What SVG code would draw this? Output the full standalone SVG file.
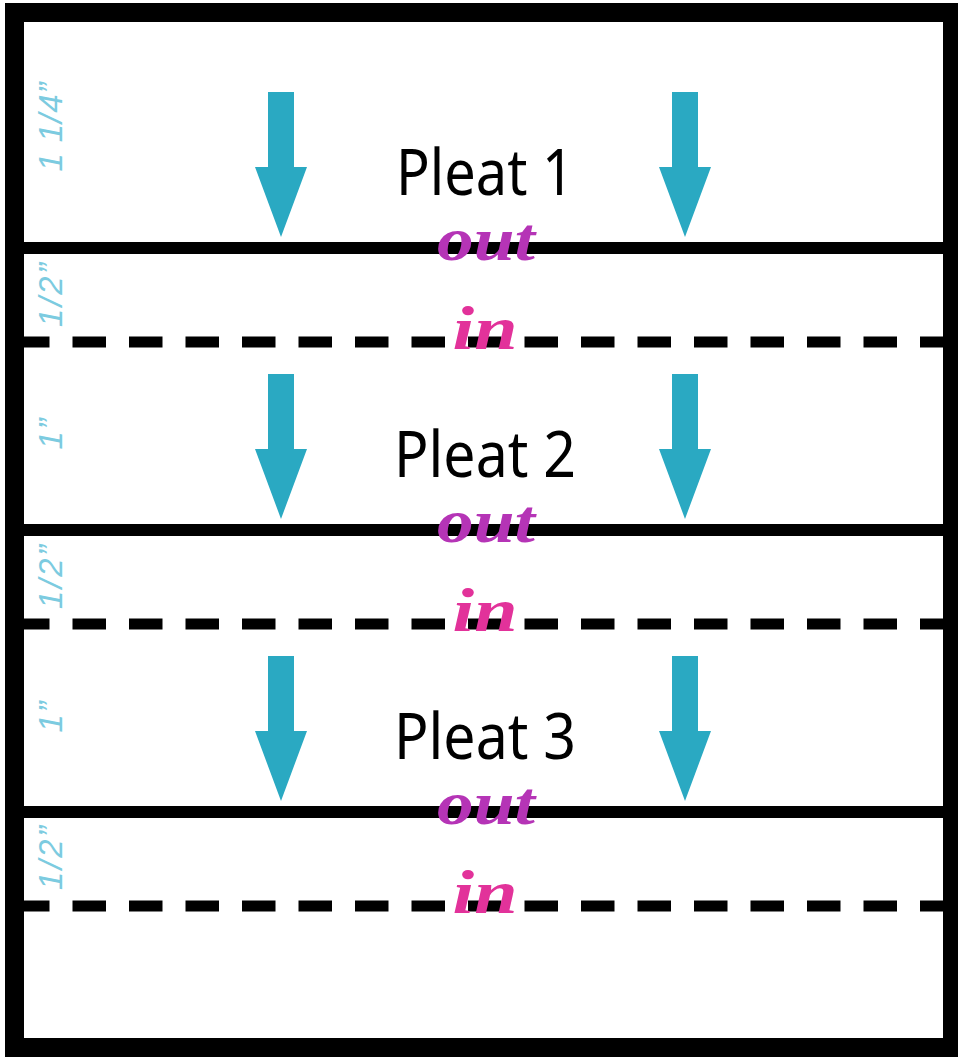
<svg xmlns="http://www.w3.org/2000/svg" width="958" height="1057" viewBox="0 0 958 1057">
<style>
.solid{stroke:#000;stroke-width:12;fill:none}
.dash{stroke:#000;stroke-width:11;fill:none;stroke-dasharray:33.5 23}
.pleat{font-family:"Noto Sans","DejaVu Sans",sans-serif;font-size:64px;fill:#000;text-anchor:middle}
.out{font-family:"Liberation Serif",serif;font-style:italic;font-weight:bold;font-size:62px;fill:#b534b6;text-anchor:middle}
.in{font-family:"Liberation Serif",serif;font-style:italic;font-weight:bold;font-size:62px;fill:#e2329a;text-anchor:middle}
.side{font-family:"Liberation Sans",Arial,sans-serif;font-style:italic;font-size:33px;fill:#7ccbe0;text-anchor:middle}
.arrow{fill:#2aa9c2}
</style>
<defs>
<polygon id="arr" points="-13,0 13,0 13,75 26,75 0,145 -26,75 -13,75"/>
</defs>
<rect width="958" height="1057" fill="#fff"/>
<g id="connectors">
<line class="solid" x1="14" y1="248" x2="946" y2="248"/>
<line class="dash" x1="16" y1="342" x2="946" y2="342"/>
<line class="solid" x1="14" y1="530" x2="946" y2="530"/>
<line class="dash" x1="16" y1="624" x2="946" y2="624"/>
<line class="solid" x1="14" y1="812" x2="946" y2="812"/>
<line class="dash" x1="16" y1="906" x2="946" y2="906"/>
</g>
<g id="frame">
<rect x="14.5" y="12.5" width="938" height="1035" fill="none" stroke="#000" stroke-width="19"/>
</g>
<g id="pleat1">
<use href="#arr" class="arrow" x="281" y="92"/>
<use href="#arr" class="arrow" x="685" y="92"/>
<text class="pleat" x="485" y="195" textLength="178" lengthAdjust="spacingAndGlyphs">Pleat 1</text>
<text class="out" x="486" y="260" textLength="98" lengthAdjust="spacingAndGlyphs">out</text>
<text class="in" x="485" y="349" textLength="65" lengthAdjust="spacingAndGlyphs">in</text>
</g>
<g id="pleat2">
<use href="#arr" class="arrow" x="281" y="374"/>
<use href="#arr" class="arrow" x="685" y="374"/>
<text class="pleat" x="485" y="477" textLength="182" lengthAdjust="spacingAndGlyphs">Pleat 2</text>
<text class="out" x="486" y="542" textLength="98" lengthAdjust="spacingAndGlyphs">out</text>
<text class="in" x="485" y="631" textLength="65" lengthAdjust="spacingAndGlyphs">in</text>
</g>
<g id="pleat3">
<use href="#arr" class="arrow" x="281" y="656"/>
<use href="#arr" class="arrow" x="685" y="656"/>
<text class="pleat" x="485" y="759" textLength="182" lengthAdjust="spacingAndGlyphs">Pleat 3</text>
<text class="out" x="486" y="824" textLength="98" lengthAdjust="spacingAndGlyphs">out</text>
<text class="in" x="485" y="913" textLength="65" lengthAdjust="spacingAndGlyphs">in</text>
</g>
<g id="side-labels">
<text class="side" transform="translate(62,127) rotate(-90)" textLength="89">1 1/4”</text>
<text class="side" transform="translate(62,295) rotate(-90)" textLength="64">1/2”</text>
<text class="side" transform="translate(62,434) rotate(-90)" textLength="31">1”</text>
<text class="side" transform="translate(62,577) rotate(-90)" textLength="64">1/2”</text>
<text class="side" transform="translate(62,717) rotate(-90)" textLength="31">1”</text>
<text class="side" transform="translate(62,858) rotate(-90)" textLength="64">1/2”</text>
</g>
</svg>
